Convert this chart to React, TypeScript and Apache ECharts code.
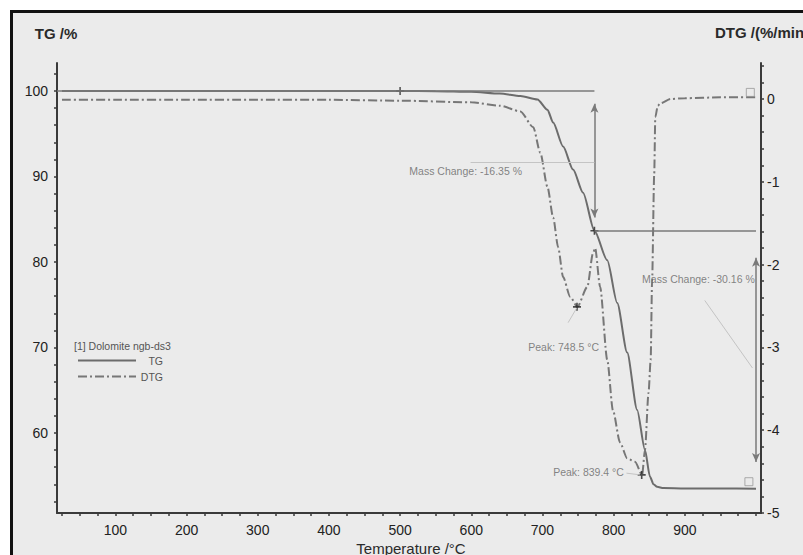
import React, { useEffect, useRef } from "react";
import * as echarts from "echarts";

// ---- Data ----
const tgTemps = [25, 100, 200, 300, 400, 500, 550, 600, 640, 669, 693, 707, 715, 729, 743, 757, 773, 791, 805, 819, 833, 844, 851, 856, 861, 870, 900, 950, 1000];
const tgValues = [100, 100, 100, 100, 100, 100, 99.98, 99.9, 99.7, 99.4, 99.0, 97.8, 96.3, 93.5, 90.8, 88.1, 83.65, 80.2, 75.2, 69.4, 62.7, 58.0, 54.9, 54.0, 53.7, 53.55, 53.5, 53.5, 53.49];

const dtgTemps = [25, 100, 200, 300, 400, 500, 600, 640, 669, 687, 697, 707, 715, 722, 729, 739, 749, 763, 771, 774, 781, 791, 799, 809, 819, 830, 840, 844, 849, 852, 854, 857, 858.5, 862, 866, 880, 900, 950, 1000];
const dtgValues = [-0.01, -0.01, -0.01, -0.01, -0.01, -0.02, -0.04, -0.08, -0.15, -0.34, -0.65, -1.06, -1.43, -1.79, -2.15, -2.39, -2.51, -2.27, -1.86, -1.8, -2.27, -3.15, -3.76, -4.15, -4.34, -4.38, -4.54, -4.24, -3.55, -3.15, -2.2, -0.9, -0.22, -0.08, -0.05, 0.0, 0.01, 0.02, 0.02];

const xTickLabels = [100, 200, 300, 400, 500, 600, 700, 800, 900];
const tgTickLabels = [60, 70, 80, 90, 100];
const dtgTickLabels = [-5, -4, -3, -2, -1, 0];

// annotations
const massChange1 = -16.35;
const massChange2 = -30.16;
const peak1 = { t: 748.5, dtg: -2.51 };
const peak2 = { t: 839.4, dtg: -4.54 };
const stepTemp = 773;
const tgStart = 100;
const tgStep = 83.65;

const FONT = '"Liberation Sans", Arial, sans-serif';
const PLUS = "path://M4,0 H6 V4 H10 V6 H6 V10 H4 V6 H0 V4 H4 Z";

export default function App() {
  const ref = useRef<HTMLDivElement>(null);

  useEffect(() => {
    document.body.style.margin = "0";
    if (!ref.current) return;
    const chart = echarts.init(ref.current, undefined, { renderer: "svg" });

    const minorX: number[] = [];
    for (let v = 25; v <= 1000; v += 25) minorX.push(v);
    const minorTG: number[] = [];
    for (let v = 52; v <= 102; v += 2) minorTG.push(v);
    const minorDTG: number[] = [];
    for (let i = -25; i <= 2; i++) minorDTG.push(Math.round(i * 2) / 10);

    const tgData = tgTemps.map((t, i) => [t, tgValues[i]]);
    const dtgData = dtgTemps.map((t, i) => [t, dtgValues[i]]);

    const faint = { color: "#c4c4c4", width: 1, type: "solid" as const };

    const option: any = {
      animation: false,
      backgroundColor: "transparent",
      grid: { left: 57, right: 42, top: 63, bottom: 42 },
      legend: {
        data: ["TG", "DTG"],
        orient: "vertical",
        left: 72,
        top: 350,
        itemWidth: 58,
        itemHeight: 8,
        itemGap: 5,
        itemStyle: { color: "rgba(0,0,0,0)", borderColor: "rgba(0,0,0,0)", borderWidth: 0 },
        formatter: (name: string) => `{r|${name}}`,
        textStyle: {
          fontSize: 10.5,
          color: "#555",
          fontFamily: FONT,
          rich: { r: { width: 22, align: "right", fontSize: 10.5, color: "#555", fontFamily: FONT } },
        },
        selectedMode: false,
      },
      xAxis: {
        type: "value",
        min: 18,
        max: 1007,
        axisLine: { show: true, onZero: false, lineStyle: { color: "#3a3a3a", width: 2 } },
        axisTick: { show: true, customValues: minorX, length: 3, lineStyle: { color: "#3a3a3a", width: 1.5 } },
        axisLabel: { customValues: xTickLabels, fontSize: 14, color: "#222", margin: 10, fontFamily: FONT },
        splitLine: { show: false },
      },
      yAxis: [
        {
          type: "value",
          position: "left",
          min: 50.64,
          max: 103.27,
          axisLine: { show: true, onZero: false, lineStyle: { color: "#3a3a3a", width: 2 } },
          axisTick: { show: true, customValues: minorTG, length: 3, lineStyle: { color: "#3a3a3a", width: 1.5 } },
          axisLabel: { customValues: tgTickLabels, fontSize: 14, color: "#222", margin: 9, fontFamily: FONT },
          splitLine: { show: false },
        },
        {
          type: "value",
          position: "right",
          min: -5,
          max: 0.435,
          axisLine: { show: true, onZero: false, lineStyle: { color: "#3a3a3a", width: 2 } },
          axisTick: { show: true, customValues: minorDTG, length: 3, lineStyle: { color: "#3a3a3a", width: 1.5 } },
          axisLabel: { customValues: dtgTickLabels, fontSize: 14, color: "#222", margin: 6, fontFamily: FONT },
          splitLine: { show: false },
        },
      ],
      series: [
        {
          name: "TG",
          type: "line",
          yAxisIndex: 0,
          data: tgData,
          symbol: "none",
          smooth: 0.25,
          smoothMonotone: "x",
          lineStyle: { color: "#6c6c6c", width: 2 },
          itemStyle: { color: "#6c6c6c" },
          z: 3,
          markLine: {
            silent: true,
            symbol: "none",
            label: { show: false },
            lineStyle: { color: "#7a7a7a", width: 1.5, type: "solid" },
            data: [
              [{ coord: [18, tgStart] }, { coord: [stepTemp, tgStart] }],
              [{ coord: [stepTemp, tgStep] }, { coord: [1000, tgStep] }],
              [
                { coord: [stepTemp, 98.5], symbol: "arrow", symbolSize: [6, 9] },
                { coord: [stepTemp, 85.2], symbol: "arrow", symbolSize: [6, 9] },
              ],
              [
                { coord: [1000, 80.5], symbol: "arrow", symbolSize: [6, 9] },
                { coord: [1000, 56.6], symbol: "arrow", symbolSize: [6, 9] },
              ],
            ],
          },
        },
        {
          name: "DTG",
          type: "line",
          yAxisIndex: 1,
          data: dtgData,
          symbol: "none",
          smooth: 0.25,
          smoothMonotone: "x",
          lineStyle: { color: "#777", width: 2, type: [9, 3, 2, 3] },
          itemStyle: { color: "#777" },
          z: 3,
        },
        {
          name: "TG markers",
          type: "scatter",
          yAxisIndex: 0,
          silent: true,
          z: 4,
          data: [
            { value: [500, tgStart], symbol: PLUS, symbolSize: 8, itemStyle: { color: "#333" } },
            { value: [stepTemp, tgStep], symbol: PLUS, symbolSize: 8, itemStyle: { color: "#222" } },
            { value: [990, 54.3], symbol: "rect", symbolSize: 8, itemStyle: { color: "rgba(0,0,0,0)", borderColor: "#999", borderWidth: 1 } },
          ],
        },
        {
          name: "DTG markers",
          type: "scatter",
          yAxisIndex: 1,
          silent: true,
          z: 4,
          data: [
            { value: [peak1.t, peak1.dtg], symbol: PLUS, symbolSize: 8, itemStyle: { color: "#222" } },
            { value: [peak2.t, peak2.dtg], symbol: PLUS, symbolSize: 8, itemStyle: { color: "#222" } },
            { value: [992, 0.08], symbol: "rect", symbolSize: 8, itemStyle: { color: "rgba(0,0,0,0)", borderColor: "#999", borderWidth: 1 } },
          ],
        },
        {
          name: "annotations",
          type: "scatter",
          yAxisIndex: 0,
          silent: true,
          symbolSize: 0,
          z: 5,
          label: {
            show: true,
            position: "right",
            distance: 0,
            fontSize: 10.5,
            color: "#666",
            fontFamily: FONT,
            formatter: (p: any) => p.name,
          },
          data: [
            { name: `Mass Change: ${massChange1.toFixed(2)} %`, value: [513, 90.64] },
            { name: `Mass Change: ${massChange2.toFixed(2)} %`, value: [840, 78.0] },
            { name: `Peak: ${peak1.t.toFixed(1)} °C`, value: [680, 70.0] },
            { name: `Peak: ${peak2.t.toFixed(1)} °C`, value: [715, 55.44] },
          ],
          markLine: {
            silent: true,
            symbol: "none",
            label: { show: false },
            lineStyle: faint,
            data: [
              [{ coord: [599, 91.7] }, { coord: [stepTemp, 91.7] }],
              [{ coord: [736, 72.9] }, { coord: [748, 74.6] }],
              [{ coord: [928, 75.5] }, { coord: [995, 67.6] }],
              [{ coord: [818, 55.3] }, { coord: [837, 55.1] }],
            ],
          },
        },
      ],
      graphic: [
        {
          type: "text",
          x: 56,
          y: 33,
          style: { text: "TG /%", fontSize: 15, fontFamily: FONT, fill: "#2a2a2a", align: "center", verticalAlign: "middle", fontWeight: "bold" },
        },
        {
          type: "text",
          x: 715,
          y: 32,
          style: { text: "DTG /(%/min", fontSize: 15, fontFamily: FONT, fill: "#2a2a2a", align: "left", verticalAlign: "middle", fontWeight: "bold" },
        },
        {
          type: "text",
          x: 411,
          y: 548,
          style: { text: "Temperature /°C", fontSize: 15, fontFamily: FONT, fill: "#2a2a2a", align: "center", verticalAlign: "middle" },
        },
        {
          type: "text",
          x: 74,
          y: 346,
          style: { text: "[1] Dolomite ngb-ds3", fontSize: 10.5, fontFamily: FONT, fill: "#555", align: "left", verticalAlign: "middle" },
        },
      ],
    };

    chart.setOption(option);
    return () => chart.dispose();
  }, []);

  return (
    <div style={{ position: "relative", width: 803, height: 555, background: "#fff", overflow: "hidden" }}>
      <div
        style={{
          position: "absolute",
          left: 10,
          top: 10,
          width: 800,
          height: 550,
          background: "#ebebeb",
          borderLeft: "3px solid #111",
          borderTop: "3px solid #111",
        }}
      />
      <div ref={ref} style={{ position: "absolute", left: 0, top: 0, width: 803, height: 555 }} />
    </div>
  );
}
